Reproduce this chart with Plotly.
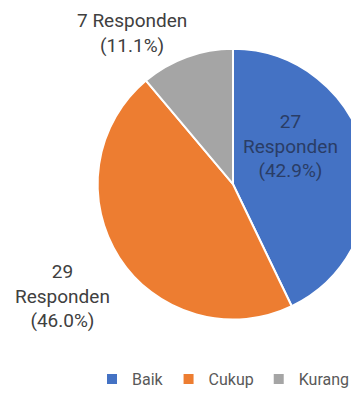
import plotly.graph_objects as go

categories = ["Baik", "Cukup", "Kurang"]
values = [27, 29, 7]
unit = "Responden"
label_formats = [
    "{v}<br>{u}<br>({p:.1f}%)",
    "{v}<br>{u}<br>({p:.1f}%)",
    "{v} {u}<br>({p:.1f}%)",
]
colors = ["#4472C4", "#ED7D31", "#A5A5A5"]

# page offset (default body margin of the html page)
OFF = 8
W, H = 470, 388
cx, cy, r = 233 - OFF, 187 - OFF, 137.5

# label anchor points (screen px) for each slice
label_pos = [(290, 148), (62, 301), (132, 33.5)]
label_colors = ["#2A3D66", "#404040", "#404040"]

fig = go.Figure(go.Pie(
    labels=categories,
    values=values,
    sort=False,
    direction="clockwise",
    rotation=0,
    textinfo="none",
    marker=dict(colors=colors, line=dict(color="white", width=2)),
    domain=dict(x=[(cx - r) / W, (cx + r) / W], y=[1 - (cy + r) / H, 1 - (cy - r) / H]),
    hoverinfo="label+value+percent",
))

total = sum(values)
annotations = []
for v, fmt, (px, py), col in zip(values, label_formats, label_pos, label_colors):
    annotations.append(dict(
        text=fmt.format(v=v, u=unit, p=v / total * 100),
        x=(px - OFF) / W, y=1 - (py - OFF) / H,
        xref="paper", yref="paper",
        xanchor="center", yanchor="middle", align="center",
        showarrow=False,
        font=dict(family="Roboto", size=19, color=col),
    ))

fig.update_layout(
    width=W, height=H,
    margin=dict(l=0, r=0, t=0, b=0),
    paper_bgcolor="white",
    plot_bgcolor="white",
    showlegend=True,
    annotations=annotations,
    legend=dict(
        orientation="h",
        x=(92 - OFF) / W, xanchor="left",
        y=1 - (385 - OFF) / H, yanchor="middle",
        font=dict(family="Roboto", size=16, color="#595959"),
    ),
    font=dict(family="Roboto"),
)

fig.write_html("out.html")
